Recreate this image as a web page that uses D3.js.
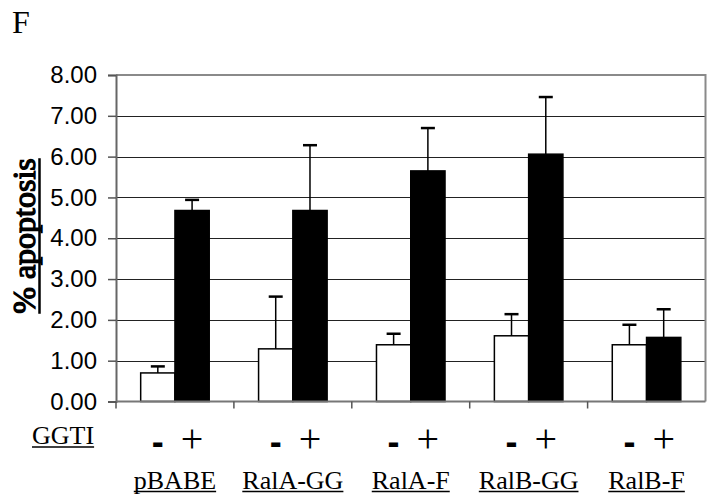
<!DOCTYPE html>
<html>
<head>
<meta charset="utf-8">
<script src="https://cdn.jsdelivr.net/npm/d3@7"></script>
<style>
  body { margin: 0; background: #fff; }
  svg { display: block; }
</style>
</head>
<body>
<div id="chart"></div>
<script>
// values
var categories = ["pBABE", "RalA-GG", "RalA-F", "RalB-GG", "RalB-F"];
var treatments = ["-", "+"];
var minusValues = [0.70, 1.29, 1.39, 1.61, 1.39];
var minusErrors = [0.16, 1.28, 0.27, 0.53, 0.49];
var plusValues = [4.68, 4.68, 5.65, 6.06, 1.57];
var plusErrors = [0.26, 1.60, 1.05, 1.40, 0.69];
var yTicks = [0, 1, 2, 3, 4, 5, 6, 7, 8];

var SERIF = "'Liberation Serif', 'Times New Roman', Times, serif",
    SANS = "'Liberation Sans', Arial, Helvetica, sans-serif";

var WIDTH = 707,
    HEIGHT = 496,
    margin = {top: 75, right: 1.5, bottom: 94.5, left: 116};

var svg = d3.select("#chart")
    .append("svg")
    .attr("width", WIDTH)
    .attr("height", HEIGHT);

var x = d3.scaleBand()
    .domain(categories)
    .range([margin.left, WIDTH - margin.right])
    .padding(0);

var xSub = d3.scaleBand()
    .domain(treatments)
    .range([0, x.bandwidth()])
    .paddingInner(0)
    .paddingOuter(0.72);

var y = d3.scaleLinear()
    .domain([0, 8])
    .range([HEIGHT - margin.bottom, margin.top]);

var rows = [];
categories.forEach(function (c, i) {
    rows.push({cat: c, t: "-", v: minusValues[i], e: minusErrors[i]});
    rows.push({cat: c, t: "+", v: plusValues[i], e: plusErrors[i]});
});

function barCenter(d) {
    return x(d.cat) + xSub(d.t) + xSub.bandwidth() / 2;
}

// panel letter
svg.append("text")
    .attr("x", 12)
    .attr("y", 33)
    .style("font-family", SERIF)
    .style("font-size", "32px")
    .text("F");

// gridlines
svg.append("g")
    .selectAll("line")
    .data(yTicks.filter(function (d) { return d > 0 && d < 8; }))
    .enter().append("line")
    .attr("x1", margin.left)
    .attr("x2", WIDTH - margin.right)
    .attr("y1", function (d) { return Math.round(y(d)) + 0.5; })
    .attr("y2", function (d) { return Math.round(y(d)) + 0.5; })
    .attr("stroke", "#222")
    .attr("stroke-width", 1.2);

// plot frame (top and right)
svg.append("path")
    .attr("d", "M" + margin.left + "," + y(8) + "H" + (WIDTH - margin.right) + "V" + y(0))
    .attr("fill", "none")
    .attr("stroke", "#8a8a8a")
    .attr("stroke-width", 2);

// y axis
var yAxis = d3.axisLeft(y)
    .tickValues(yTicks)
    .tickSize(8)
    .tickPadding(11)
    .tickFormat(d3.format(".2f"));

var gy = svg.append("g")
    .attr("transform", "translate(" + margin.left + ",0)")
    .call(yAxis);
gy.select(".domain").attr("stroke", "#666").attr("stroke-width", 2);
gy.selectAll(".tick line").attr("stroke", "#555").attr("stroke-width", 1.5);
gy.selectAll(".tick text")
    .attr("fill", "#000")
    .style("font-family", SANS)
    .style("font-size", "24px");

// bars
svg.append("g")
    .selectAll("rect")
    .data(rows)
    .enter().append("rect")
    .attr("x", function (d) { return x(d.cat) + xSub(d.t); })
    .attr("y", function (d) { return y(d.v); })
    .attr("width", xSub.bandwidth())
    .attr("height", function (d) { return y(0) - y(d.v); })
    .attr("fill", function (d) { return d.t === "-" ? "#fff" : "#000"; })
    .attr("stroke", "#000")
    .attr("stroke-width", 1.5);

// error bars (upper only)
var err = svg.append("g")
    .selectAll("g")
    .data(rows)
    .enter().append("g")
    .attr("transform", function (d) { return "translate(" + barCenter(d) + ",0)"; });
err.append("line")
    .attr("x1", 0).attr("x2", 0)
    .attr("y1", function (d) { return y(d.v); })
    .attr("y2", function (d) { return y(d.v + d.e); })
    .attr("stroke", "#000")
    .attr("stroke-width", 1.5);
err.append("line")
    .attr("x1", -7).attr("x2", 7)
    .attr("y1", function (d) { return y(d.v + d.e); })
    .attr("y2", function (d) { return y(d.v + d.e); })
    .attr("stroke", "#000")
    .attr("stroke-width", 2.5);

// x axis line and category ticks
svg.append("line")
    .attr("x1", margin.left)
    .attr("x2", WIDTH - margin.right)
    .attr("y1", y(0))
    .attr("y2", y(0))
    .attr("stroke", "#777")
    .attr("stroke-width", 2);

svg.append("g")
    .selectAll("line")
    .data(categories)
    .enter().append("line")
    .attr("x1", function (d) { return x(d); })
    .attr("x2", function (d) { return x(d); })
    .attr("y1", y(0))
    .attr("y2", y(0) + 7)
    .attr("stroke", "#555")
    .attr("stroke-width", 1.5);

// treatment signs
svg.append("g")
    .selectAll("text")
    .data(rows)
    .enter().append("text")
    .attr("x", barCenter)
    .attr("y", function (d) { return d.t === "-" ? 454 : 452; })
    .attr("text-anchor", "middle")
    .style("font-family", function (d) { return d.t === "-" ? SANS : SERIF; })
    .style("font-size", function (d) { return d.t === "-" ? "36px" : "40px"; })
    .style("font-weight", function (d) { return d.t === "-" ? "bold" : "normal"; })
    .text(function (d) { return d.t; });

// underline helper
function underlined(sel, thick) {
    sel.each(function () {
        var b = this.getBBox();
        var ty = +d3.select(this).attr("y");
        d3.select(this.parentNode).append("line")
            .attr("x1", b.x)
            .attr("x2", b.x + b.width)
            .attr("y1", ty + 3)
            .attr("y2", ty + 3)
            .attr("stroke", "#000")
            .attr("stroke-width", thick);
    });
}

svg.append("g")
    .append("text")
    .attr("x", 32)
    .attr("y", 444)
    .style("font-family", SERIF)
    .style("font-size", "26px")
    .text("GGTI")
    .call(underlined, 1.6);

svg.append("g")
    .selectAll("text")
    .data(categories)
    .enter().append("text")
    .attr("x", function (d) { return x(d) + x.bandwidth() / 2; })
    .attr("y", 488.5)
    .attr("text-anchor", "middle")
    .style("font-family", SERIF)
    .style("font-size", "26px")
    .text(function (d) { return d; })
    .call(underlined, 1.6);

// y axis title: no bold serif face installed, so thicken the regular one with a stroke
var yt = svg.append("g")
    .attr("transform", "translate(35,236) rotate(-90)");
var ytText = yt.append("text")
    .attr("x", 0)
    .attr("y", 0)
    .attr("text-anchor", "middle")
    .attr("fill", "#000")
    .attr("stroke", "#000")
    .attr("stroke-width", 1.3)
    .style("font-family", SERIF)
    .style("font-size", "32px")
    .text("% apoptosis");
var tb = ytText.node().getBBox();
yt.append("line")
    .attr("x1", tb.x)
    .attr("x2", tb.x + tb.width)
    .attr("y1", 4.5)
    .attr("y2", 4.5)
    .attr("stroke", "#000")
    .attr("stroke-width", 2.5);
</script>
</body>
</html>
